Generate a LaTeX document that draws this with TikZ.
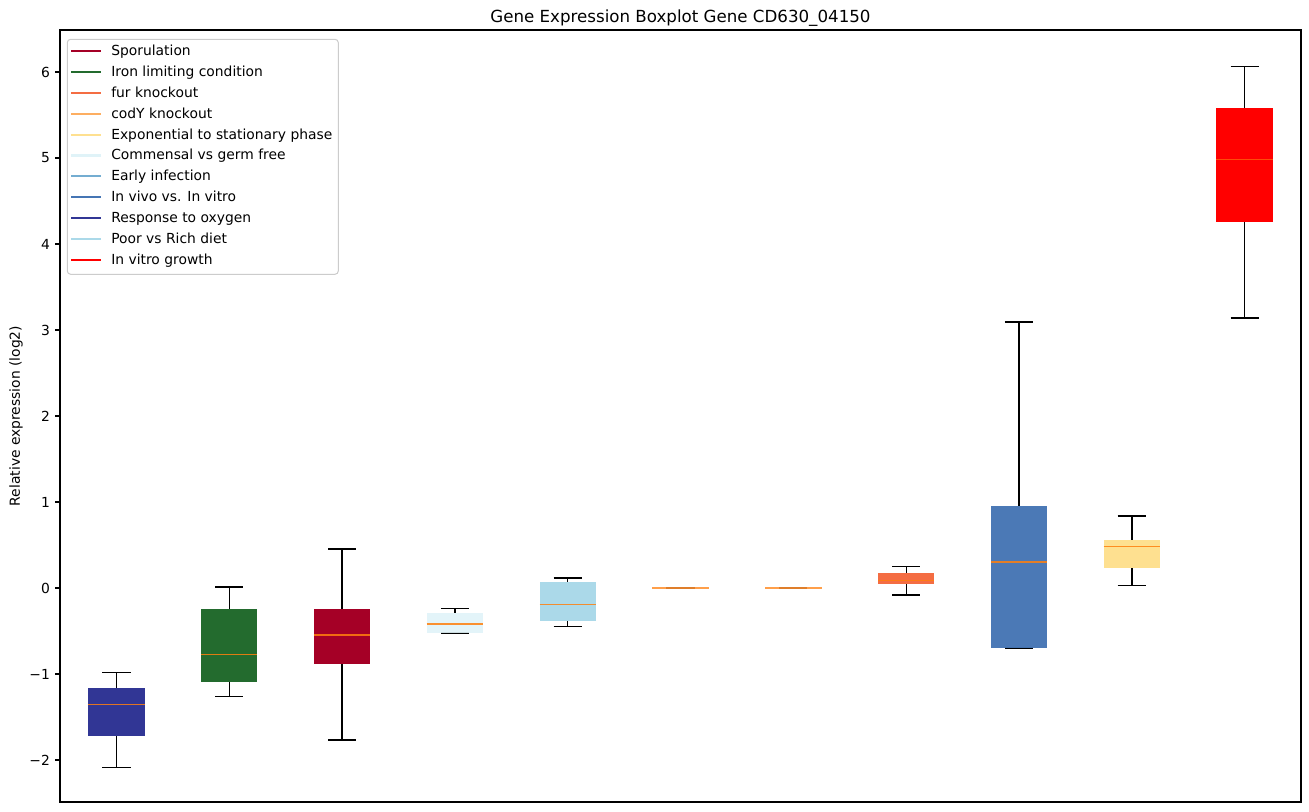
\documentclass[tikz,border=0pt]{standalone}
\usepackage{fontspec}
\setmainfont{DejaVu Sans}
\usepackage{tikz}
\definecolor{sporulation}{HTML}{A50026}
\definecolor{ironlimit}{HTML}{236B2E}
\definecolor{furko}{HTML}{F46D43}
\definecolor{codyko}{HTML}{FDAE61}
\definecolor{expstat}{HTML}{FEE090}
\definecolor{commensal}{HTML}{E0F3F8}
\definecolor{earlyinf}{HTML}{74ADD1}
\definecolor{invivo}{HTML}{4575B4}
\definecolor{oxygen}{HTML}{313695}
\definecolor{poorrich}{HTML}{ABD9E9}
\definecolor{invitro}{HTML}{FF0000}
\definecolor{medorange}{HTML}{FF7F0E}

\begin{document}
\begin{tikzpicture}[x=0.75pt,y=0.75pt,yscale=-1,xscale=1,
    whisk/.style={line width=1.04pt},
    medline/.style={draw=medorange, line width=1.04pt, draw opacity=0.85},
    legline/.style={line width=1.56pt},
    ticklab/.style={anchor=east, inner sep=0pt, font=\fontsize{10.4}{12}\selectfont},
    legtext/.style={anchor=west, inner sep=0pt, font=\fontsize{10.4}{12}\selectfont}]
    \path[use as bounding box] (0,0) rectangle (1309,812);

    %Boxplot 1: Response to oxygen
    \draw [whisk] (102.3,672.3) -- (130.5,672.3) ;
    \draw [whisk] (116.4,672.3) -- (116.4,687.7) ;
    \draw [whisk] (116.4,736) -- (116.4,767.3) ;
    \draw [whisk] (102.3,767.3) -- (130.5,767.3) ;
    \fill [oxygen] (88.2,687.7) rectangle (144.6,736) ;
    \draw [medline] (88.2,704.3) -- (144.6,704.3) ;
    %Boxplot 2: Iron limiting condition
    \draw [whisk] (215.1,587) -- (243.3,587) ;
    \draw [whisk] (229.2,587) -- (229.2,609) ;
    \draw [whisk] (229.2,682) -- (229.2,696.3) ;
    \draw [whisk] (215.1,696.3) -- (243.3,696.3) ;
    \fill [ironlimit] (201,609) rectangle (257.4,682) ;
    \draw [medline] (201,654.3) -- (257.4,654.3) ;
    %Boxplot 3: Sporulation
    \draw [whisk] (328,549) -- (356.2,549) ;
    \draw [whisk] (342.1,549) -- (342.1,609) ;
    \draw [whisk] (342.1,664) -- (342.1,740) ;
    \draw [whisk] (328,740) -- (356.2,740) ;
    \fill [sporulation] (313.9,609) rectangle (370.3,664) ;
    \draw [medline] (313.9,635) -- (370.3,635) ;
    %Boxplot 4: Commensal vs germ free
    \draw [whisk] (440.8,608.3) -- (469,608.3) ;
    \draw [whisk] (454.9,608.3) -- (454.9,613) ;
    \draw [whisk] (440.8,633) -- (469,633) ;
    \fill [commensal, opacity=0.9] (426.7,613) rectangle (483.1,633) ;
    \draw [medline] (426.7,624) -- (483.1,624) ;
    %Boxplot 5: Poor vs Rich diet
    \draw [whisk] (553.6,578) -- (581.8,578) ;
    \draw [whisk] (567.7,578) -- (567.7,582) ;
    \draw [whisk] (567.7,621.3) -- (567.7,626.3) ;
    \draw [whisk] (553.6,626.3) -- (581.8,626.3) ;
    \fill [poorrich] (539.5,582) rectangle (595.9,621.3) ;
    \draw [medline] (539.5,604.3) -- (595.9,604.3) ;
    %Boxplot 6: codY knockout
    \draw [whisk, draw opacity=0.5] (666.4,588) -- (694.6,588) ;
    \draw [medline, draw opacity=0.75] (652.3,588) -- (708.7,588) ;
    %Boxplot 7: Early infection
    \draw [whisk, draw opacity=0.5] (779.2,588) -- (807.4,588) ;
    \draw [medline, draw opacity=0.75] (765.1,588) -- (821.5,588) ;
    %Boxplot 8: fur knockout
    \draw [whisk] (892.1,566.7) -- (920.3,566.7) ;
    \draw [whisk] (906.2,566.7) -- (906.2,572.7) ;
    \draw [whisk] (906.2,583.7) -- (906.2,595) ;
    \draw [whisk] (892.1,595) -- (920.3,595) ;
    \fill [furko] (878,572.7) rectangle (934.4,583.7) ;
    \draw [medline] (878,580.7) -- (934.4,580.7) ;
    %Boxplot 9: In vivo vs. In vitro
    \draw [whisk] (1004.9,322) -- (1033.1,322) ;
    \draw [whisk] (1019,322) -- (1019,505.7) ;
    \draw [whisk] (1004.9,648) -- (1033.1,648) ;
    \fill [invivo, opacity=0.97] (990.8,505.7) rectangle (1047.2,648) ;
    \draw [medline] (990.8,562) -- (1047.2,562) ;
    %Boxplot 10: Exponential to stationary phase
    \draw [whisk] (1117.7,516) -- (1145.9,516) ;
    \draw [whisk] (1131.8,516) -- (1131.8,540) ;
    \draw [whisk] (1131.8,568) -- (1131.8,585.3) ;
    \draw [whisk] (1117.7,585.3) -- (1145.9,585.3) ;
    \fill [expstat] (1103.6,540) rectangle (1160,568) ;
    \draw [medline] (1103.6,546.3) -- (1160,546.3) ;
    %Boxplot 11: In vitro growth
    \draw [whisk] (1230.5,66.7) -- (1258.7,66.7) ;
    \draw [whisk] (1244.6,66.7) -- (1244.6,107.7) ;
    \draw [whisk] (1244.6,222) -- (1244.6,318) ;
    \draw [whisk] (1230.5,318) -- (1258.7,318) ;
    \fill [invitro] (1216.4,107.7) rectangle (1272.8,222) ;
    \draw [medline, draw opacity=0.6] (1216.4,159.3) -- (1272.8,159.3) ;

    %Axes frame
    \draw [line width=0.8pt] (60,30) rectangle (1301,802) ;
    %Y ticks
    \foreach \v/\lab in {-2/−2, -1/−1, 0/0, 1/1, 2/2, 3/3, 4/4, 5/5, 6/6} {
        \draw [line width=0.8pt] (55.1,588-86*\v) -- (60,588-86*\v) ;
        \node [ticklab] (tick\v) at (50.2,588-86*\v) {\lab};
    }

    % Text Node
    \node [anchor=base, inner sep=0pt, font=\fontsize{12.5}{15}\selectfont] (title) at (680.5,23) {Gene Expression Boxplot Gene CD630\_04150};
    % Text Node
    \node [rotate=90, inner sep=0pt, font=\fontsize{10.4}{12}\selectfont] (ylab) at (16,416) {Relative expression (log2)};

    %Legend
    \draw [draw={rgb,255:red,204;green,204;blue,204}, fill=white, fill opacity=0.8, rounded corners=2.5pt, line width=0.75pt] (67.3,39.3) rectangle (338.3,274.3) ;
    \foreach \n/\c/\t [count=\i from 0] in {
        spor/sporulation/Sporulation,
        iron/ironlimit/Iron limiting condition,
        fur/furko/fur knockout,
        cody/codyko/codY knockout,
        expo/expstat/Exponential to stationary phase,
        comm/commensal/Commensal vs germ free,
        early/earlyinf/Early infection,
        vivo/invivo/In vivo vs. In vitro,
        oxy/oxygen/Response to oxygen,
        diet/poorrich/Poor vs Rich diet,
        vitro/invitro/In vitro growth} {
        \draw [legline, \c] (71,51+20.9*\i) -- (101,51+20.9*\i) ;
        \node [legtext, anchor=base west] (leg\n) at (111,55.5+20.9*\i) {\t};
    }
\end{tikzpicture}
\end{document}
